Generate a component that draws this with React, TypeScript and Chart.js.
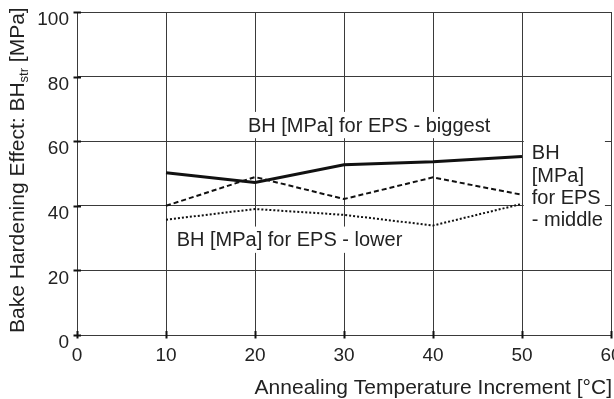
import React, { useEffect, useRef } from "react";
import { Chart, registerables } from "chart.js";

Chart.register(...registerables);

// ---- data ----
const temperatureIncrements = [10, 20, 30, 40, 50];
const bhBiggest = [50.2, 47.2, 52.7, 53.6, 55.3];
const bhMiddle = [40.0, 48.9, 42.1, 48.8, 43.4];
const bhLower = [35.7, 39.0, 37.2, 33.9, 40.6];

const xTickValues = [0, 10, 20, 30, 40, 50, 60];
const yTickValues = [0, 20, 40, 60, 80, 100];

const xTitle = "Annealing Temperature Increment [°C]";
const yTitleMain = "Bake Hardening Effect: BH";
const yTitleSub = "str";
const yTitleUnit = " [MPa]";

const seriesNames = [
  "BH [MPa] for EPS - biggest",
  "BH [MPa] for EPS - middle",
  "BH [MPa] for EPS - lower",
];

// in-plot labels (anchored in data units)
const labelLinesBiggest = ["BH [MPa] for EPS - biggest"];
const labelLinesMiddle = ["BH", "[MPa]", "for EPS", "- middle"];
const labelLinesLower = ["BH [MPa] for EPS - lower"];
const labelAnchorsX = [19.2, 51.1, 11.2];
const labelAnchorsY = [65, 56.4, 29.5];

const FONT = "'Liberation Sans', Arial, Helvetica, sans-serif";
const TEXT = "#222";
const GRID = "#3a3a3a";

const decorPlugin = {
  id: "decor",
  beforeDatasetsDraw(chart: any) {
    const ctx = chart.ctx as CanvasRenderingContext2D;
    const xs = chart.scales.x;
    const ys = chart.scales.y;
    ctx.save();
    const groups = [labelLinesBiggest, labelLinesMiddle, labelLinesLower];
    ctx.font = `20px ${FONT}`;
    groups.forEach((lines, i) => {
      const px = xs.getPixelForValue(labelAnchorsX[i]);
      const py = ys.getPixelForValue(labelAnchorsY[i]);
      const lh = 22.3;
      const w = Math.max(...lines.map((l) => ctx.measureText(l).width));
      const padL = i === 1 ? 8 : 4;
      const padR = i === 1 ? 2 : 4;
      const top = py - lh / 2 - 2;
      const h = lh * lines.length + 4;
      ctx.fillStyle = "#fff";
      ctx.fillRect(px - padL, top, w + padL + padR, h);
      ctx.fillStyle = TEXT;
      ctx.textAlign = "left";
      ctx.textBaseline = "middle";
      lines.forEach((l, k) => ctx.fillText(l, px, py + k * lh + 1));
    });
    ctx.restore();
  },
  afterDraw(chart: any) {
    const ctx = chart.ctx as CanvasRenderingContext2D;
    const xs = chart.scales.x;
    const ys = chart.scales.y;
    const area = chart.chartArea;
    ctx.save();
    // tick marks crossing the axes
    ctx.strokeStyle = "#111";
    ctx.lineWidth = 2;
    yTickValues.forEach((v) => {
      const y = Math.round(ys.getPixelForValue(v)) + 0.5;
      ctx.beginPath();
      ctx.moveTo(area.left - 3.5, y);
      ctx.lineTo(area.left + 4, y);
      ctx.stroke();
    });
    xTickValues.forEach((v) => {
      const x = Math.round(xs.getPixelForValue(v)) + 0.5;
      ctx.beginPath();
      ctx.moveTo(x, area.bottom - 4);
      ctx.lineTo(x, area.bottom + 3.5);
      ctx.stroke();
    });
    // x title
    ctx.fillStyle = TEXT;
    ctx.font = `21px ${FONT}`;
    ctx.textAlign = "right";
    ctx.textBaseline = "alphabetic";
    ctx.fillText(xTitle, 612, 394);
    // y title (rotated, with subscript)
    ctx.translate(24, 333);
    ctx.rotate(-Math.PI / 2);
    ctx.textAlign = "left";
    ctx.font = `21px ${FONT}`;
    let cx = 0;
    ctx.fillText(yTitleMain, cx, 0);
    cx += ctx.measureText(yTitleMain).width;
    ctx.font = `13px ${FONT}`;
    ctx.fillText(yTitleSub, cx, 4);
    cx += ctx.measureText(yTitleSub).width;
    ctx.font = `21px ${FONT}`;
    ctx.fillText(yTitleUnit, cx, 0);
    ctx.restore();
  },
};

export default function App() {
  const ref = useRef<HTMLCanvasElement | null>(null);
  useEffect(() => {
    document.body.style.margin = "0";
    const canvas = ref.current;
    if (!canvas) return;
    const chart = new Chart(canvas, {
      type: "line",
      data: {
        labels: temperatureIncrements,
        datasets: [
          {
            label: seriesNames[0],
            data: temperatureIncrements.map((x, i) => ({ x, y: bhBiggest[i] })),
            borderColor: "#111",
            borderWidth: 3,
            pointRadius: 0,
            tension: 0,
          },
          {
            label: seriesNames[1],
            data: temperatureIncrements.map((x, i) => ({ x, y: bhMiddle[i] })),
            borderColor: "#111",
            borderWidth: 2,
            borderDash: [5, 3],
            pointRadius: 0,
            tension: 0,
          },
          {
            label: seriesNames[2],
            data: temperatureIncrements.map((x, i) => ({ x, y: bhLower[i] })),
            borderColor: "#111",
            borderWidth: 2,
            borderDash: [2, 2],
            pointRadius: 0,
            tension: 0,
          },
        ],
      },
      options: {
        responsive: false,
        animation: false,
        devicePixelRatio: 1,
        layout: { padding: { top: 12, right: 3, left: 0, bottom: 0 } },
        plugins: {
          legend: { display: false },
          tooltip: { enabled: false },
          title: { display: false },
        },
        scales: {
          x: {
            type: "linear",
            min: 0,
            max: 60,
            afterBuildTicks: (scale: any) => {
              scale.ticks = xTickValues.map((v) => ({ value: v }));
            },
            afterFit: (scale: any) => {
              scale.height = 64;
              scale.paddingLeft = 0;
              scale.paddingRight = 0;
            },
            ticks: {
              color: TEXT,
              font: { family: FONT, size: 19 },
              padding: 5,
              maxRotation: 0,
              autoSkip: false,
            },
            grid: {
              color: GRID,
              lineWidth: 1,
              tickLength: 4,
              tickColor: "rgba(0,0,0,0)",
            },
            border: { display: true, color: GRID, width: 1 },
          },
          y: {
            type: "linear",
            min: 0,
            max: 100,
            afterBuildTicks: (scale: any) => {
              scale.ticks = yTickValues.map((v) => ({ value: v }));
            },
            afterFit: (scale: any) => {
              scale.width = 77;
              scale.paddingTop = 0;
              scale.paddingBottom = 0;
            },
            ticks: {
              color: TEXT,
              font: { family: FONT, size: 19 },
              padding: 4,
              labelOffset: 8,
              autoSkip: false,
            },
            grid: {
              color: GRID,
              lineWidth: 1,
              tickLength: 4,
              tickColor: "rgba(0,0,0,0)",
            },
            border: { display: true, color: GRID, width: 1 },
          },
        },
      },
      plugins: [decorPlugin],
    } as any);
    return () => chart.destroy();
  }, []);
  return (
    <div style={{ width: 614, height: 399 }}>
      <canvas ref={ref} width={614} height={399} />
    </div>
  );
}
